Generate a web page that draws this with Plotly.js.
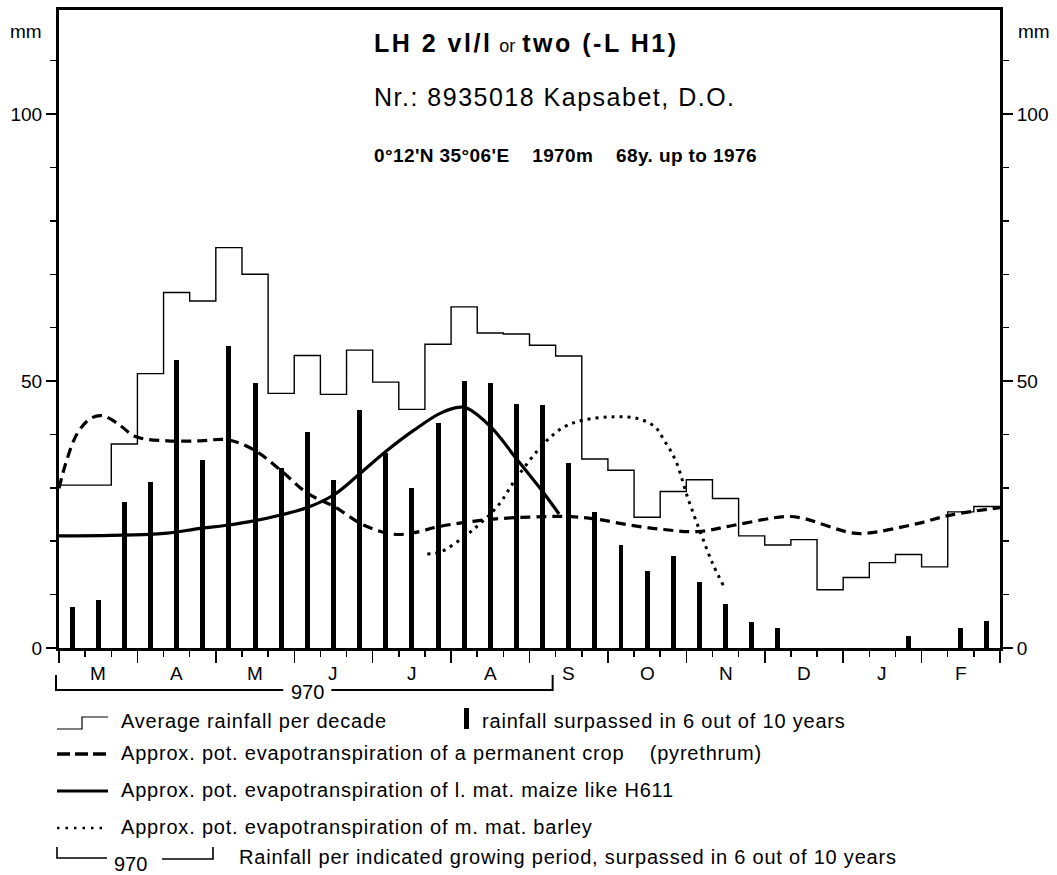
<!DOCTYPE html>
<html><head><meta charset="utf-8">
<script src="https://cdn.plot.ly/plotly-3.0.1.min.js"></script>
<style>html,body{margin:0;padding:0;background:#fff}</style>
</head><body><div id="chart" style="width:1057px;height:875px"></div>
<script>
// ---------- data ----------
const months = ['M','A','M','J','J','A','S','O','N','D','J','F'];
// average rainfall per decade (mm), 36 decades from March
const avgRain = [30.5,30.5,38.2,51.4,66.6,65.0,75.0,70.0,47.7,54.8,47.5,55.8,
                 49.8,44.7,56.9,63.9,59.0,58.8,56.7,54.7,35.4,33.3,24.5,29.3,
                 31.5,28.0,21.0,19.3,20.3,10.9,13.2,16.0,17.5,15.2,25.5,26.5];
// rainfall surpassed in 6 out of 10 years (mm)
const rain6of10 = [7.7,9.0,27.3,31.1,53.9,35.3,56.6,49.6,33.8,40.5,31.5,44.6,
                   36.5,29.9,42.1,50.0,49.6,45.7,45.5,34.7,25.4,19.2,14.5,17.2,
                   12.4,8.2,4.9,3.7,0,0,0,0,2.3,0,3.7,5.0];
// pot. evapotranspiration of a permanent crop (pyrethrum) – x in decades
const pyrX = [0,0.26,0.7,1.21,1.66,2.23,2.93,4.15,5.4,6.44,7.46,8.48,9.5,10.52,11.67,12.82,13.58,14.6,
              16.52,18.55,19.58,20.6,21.87,23.14,24.42,25.82,27.74,28.37,30.28,30.92,32.84,34.11,36];
const pyrY = [29.9,34.6,40.2,43.0,43.5,42.1,39.6,38.8,38.8,39.0,37.1,33.3,29.0,26.5,23.0,21.3,21.6,22.8,
              24.1,24.6,24.6,24.1,23.0,22.2,21.8,23.0,24.6,24.4,21.6,21.5,23.3,24.9,26.3];
// pot. evapotranspiration of l. mat. maize like H611
const maizeX = [0,2,3.5,4.15,5.42,6.44,7.46,8.48,9.5,10.52,11.45,12.5,13.58,14.6,15.36,15.62,16.52,17.54,18.55,19.13];
const maizeY = [21.0,21.1,21.3,21.5,22.4,23.0,23.8,24.9,26.3,28.7,32.4,36.8,40.8,44.0,45.1,44.9,41.4,35.2,29.0,25.1];
// pot. evapotranspiration of m. mat. barley
const barleyX = [14.09,14.6,15.49,16.13,16.77,17.54,18.55,19.32,20.08,21.23,22.13,22.8,23.14,23.6,24.05,24.55,25.0,25.44];
const barleyY = [17.6,18.0,20.8,23.4,26.5,32.1,38.3,41.4,42.7,43.3,43.0,41.4,39.0,35.0,28.2,21.5,15.9,11.5];
const yTickVals = [0,50,100];
const yTickText = ['0','50','100'];
const periodStart = 0, periodEnd = 19, periodRain = 970;

// ---------- derived ----------
const nDec = avgRain.length;
const decCenters = avgRain.map((_, i) => i + 0.5);
const decEdges = Array.from({length: nDec + 1}, (_, i) => i);
const stepY = avgRain.concat([avgRain[nDec - 1]]);
const monthEdges = Array.from({length: months.length + 1}, (_, i) => i * 3);

// ---------- geometry helpers (page pixels -> paper) ----------
const PL = 59, PR = 1000, PT = 10, PB = 648;
const px = v => (v - PL) / (PR - PL);
const py = v => (PB - v) / (PB - PT);
const FONT = 'Liberation Sans, Arial, Helvetica, sans-serif';

const traces = [
  {type:'bar', x:decCenters, y:rain6of10, width:0.19, marker:{color:'#000', line:{width:0}}, hoverinfo:'skip'},
  {type:'scatter', mode:'lines', x:decEdges, y:stepY, line:{shape:'hv', color:'#000', width:1.4}, yaxis:'y2', hoverinfo:'skip'},
  {type:'scatter', mode:'lines', x:pyrX, y:pyrY, line:{shape:'spline', smoothing:1, color:'#000', width:3.2, dash:'10px,6px'}, hoverinfo:'skip'},
  {type:'scatter', mode:'lines', x:maizeX, y:maizeY, line:{shape:'spline', smoothing:1, color:'#000', width:3.2}, hoverinfo:'skip'},
  {type:'scatter', mode:'lines', x:barleyX, y:barleyY, line:{shape:'spline', smoothing:1, color:'#000', width:3, dash:'3px,5px'}, hoverinfo:'skip'}
];

const yAxisBase = {
  range:[0,119.5], showline:true, linewidth:3, linecolor:'#000', showgrid:false, zeroline:false,
  tickmode:'array', tickvals:yTickVals, ticktext:yTickText, ticks:'outside', ticklen:10, tickwidth:1.5, tickcolor:'#000',
  tickfont:{family:FONT, size:19, color:'#000'},
  minor:{tickmode:'linear', tick0:0, dtick:10, ticks:'outside', ticklen:6, tickwidth:1.5, tickcolor:'#000'},
  fixedrange:true
};

const annotations = [];
const ann = (text, x, y, opts) => annotations.push(Object.assign({
  text, x, y, xref:'paper', yref:'paper', showarrow:false, xanchor:'left', yanchor:'middle',
  font:{family:FONT, size:20, color:'#000'}
}, opts || {}));

// titles
ann('<span style="letter-spacing:2.5px"><b>LH 2 vl/l</b></span> <span style="font-size:18px">or</span> <span style="letter-spacing:2.5px"><b>two (-L H1)</b></span>',
    px(372), py(43), {font:{family:FONT, size:25, color:'#000'}});
ann('<span style="letter-spacing:1.5px">Nr.: 8935018 Kapsabet, D.O.</span>', px(372), py(97), {font:{family:FONT, size:25, color:'#000'}});
ann('<span style="letter-spacing:0.4px"><b>0°12\'N 35°06\'E\u00a0\u00a0\u00a0 1970m\u00a0\u00a0\u00a0 68y. up to 1976</b></span>', px(372), py(156), {font:{family:FONT, size:19, color:'#000'}});
// units
ann('mm', px(44), py(31), {xanchor:'right', font:{family:FONT, size:19, color:'#000'}});
ann('mm', px(1016), py(31), {font:{family:FONT, size:19, color:'#000'}});
// month labels
months.forEach((m, i) => annotations.push({
  text:m, x:i*3 + 1.5, y:py(673), xref:'x', yref:'paper', showarrow:false, xanchor:'center', yanchor:'middle',
  font:{family:FONT, size:19, color:'#000'}
}));
// growing period label
const periodMid = (periodStart + periodEnd) / 2;
annotations.push({text:String(periodRain), x:periodMid, y:py(692), xref:'x', yref:'paper', showarrow:false,
  xanchor:'center', yanchor:'middle', font:{family:FONT, size:20, color:'#000'}});

// legend texts
const LT = {family:FONT, size:20, color:'#000'};
const sp = t => '<span style="letter-spacing:0.8px">' + t + '</span>';
ann(sp('Average rainfall per decade'), px(119), py(721), {font:LT});
ann(sp('rainfall surpassed in 6 out of 10 years'), px(480), py(721), {font:LT});
ann(sp('Approx. pot. evapotranspiration of a permanent crop\u00a0\u00a0\u00a0 (pyrethrum)'), px(119), py(753), {font:LT});
ann(sp('Approx. pot. evapotranspiration of l. mat. maize like H611'), px(119), py(790), {font:LT});
ann(sp('Approx. pot. evapotranspiration of m. mat. barley'), px(119), py(827), {font:LT});
ann(String(periodRain), px(130), py(864), {xanchor:'center', font:LT});
ann(sp('Rainfall per indicated growing period, surpassed in 6 out of 10 years'), px(237), py(857), {font:LT});

// shapes
const shapes = [];
const gapHalf = 0.92;
const bl = {color:'#000', width:2};
shapes.push({type:'path', xref:'paper', yref:'paper', line:bl,
  path:`M ${px(PL + periodStart*(PR-PL)/nDec - 3)} ${py(675)} L ${px(PL + periodStart*(PR-PL)/nDec - 3)} ${py(690)} L ${px(PL + (periodMid-gapHalf)*(PR-PL)/nDec)} ${py(690)}`});
shapes.push({type:'path', xref:'paper', yref:'paper', line:bl,
  path:`M ${px(PL + (periodMid+gapHalf)*(PR-PL)/nDec)} ${py(690)} L ${px(PL + periodEnd*(PR-PL)/nDec - 3)} ${py(690)} L ${px(PL + periodEnd*(PR-PL)/nDec - 3)} ${py(675)}`});
// legend symbols
shapes.push({type:'path', xref:'paper', yref:'paper', line:{color:'#000', width:1.2},
  path:`M ${px(57)} ${py(729)} L ${px(82)} ${py(729)} L ${px(82)} ${py(717)} L ${px(108)} ${py(717)}`});
shapes.push({type:'rect', xref:'paper', yref:'paper', x0:px(464), x1:px(469), y0:py(729), y1:py(708), fillcolor:'#000', line:{width:0}});
shapes.push({type:'line', xref:'paper', yref:'paper', x0:px(57), x1:px(108), y0:py(754), y1:py(754), line:{color:'#000', width:3.5, dash:'13px,5px'}});
shapes.push({type:'line', xref:'paper', yref:'paper', x0:px(57), x1:px(108), y0:py(791), y1:py(791), line:{color:'#000', width:3.2}});
shapes.push({type:'line', xref:'paper', yref:'paper', x0:px(57), x1:px(108), y0:py(828), y1:py(828), line:{color:'#000', width:2.5, dash:'2.5px,6px'}});
shapes.push({type:'path', xref:'paper', yref:'paper', line:{color:'#000', width:1.6},
  path:`M ${px(57)} ${py(847)} L ${px(57)} ${py(858)} L ${px(107)} ${py(858)}`});
shapes.push({type:'path', xref:'paper', yref:'paper', line:{color:'#000', width:1.6},
  path:`M ${px(162)} ${py(859)} L ${px(213)} ${py(859)} L ${px(213)} ${py(847)}`});

const layout = {
  width:1057, height:875, margin:{l:59, r:57, t:10, b:227, pad:0},
  paper_bgcolor:'#fff', plot_bgcolor:'#fff', showlegend:false, bargap:0,
  xaxis:{range:[0,36], showline:true, linewidth:3, linecolor:'#000', mirror:true, showgrid:false, zeroline:false,
         tickmode:'array', tickvals:monthEdges, ticktext:monthEdges.map(() => ''), ticks:'outside', ticklen:12, tickwidth:1.5, tickcolor:'#000',
         minor:{tickmode:'linear', tick0:0, dtick:1, ticks:'outside', ticklen:6, tickwidth:1.5, tickcolor:'#000'},
         fixedrange:true},
  yaxis:Object.assign({}, yAxisBase, {side:'left'}),
  yaxis2:Object.assign({}, yAxisBase, {side:'right', overlaying:'y', anchor:'x'}),
  annotations, shapes
};
Plotly.newPlot('chart', traces, layout, {staticPlot:true, displayModeBar:false});
</script></body></html>
